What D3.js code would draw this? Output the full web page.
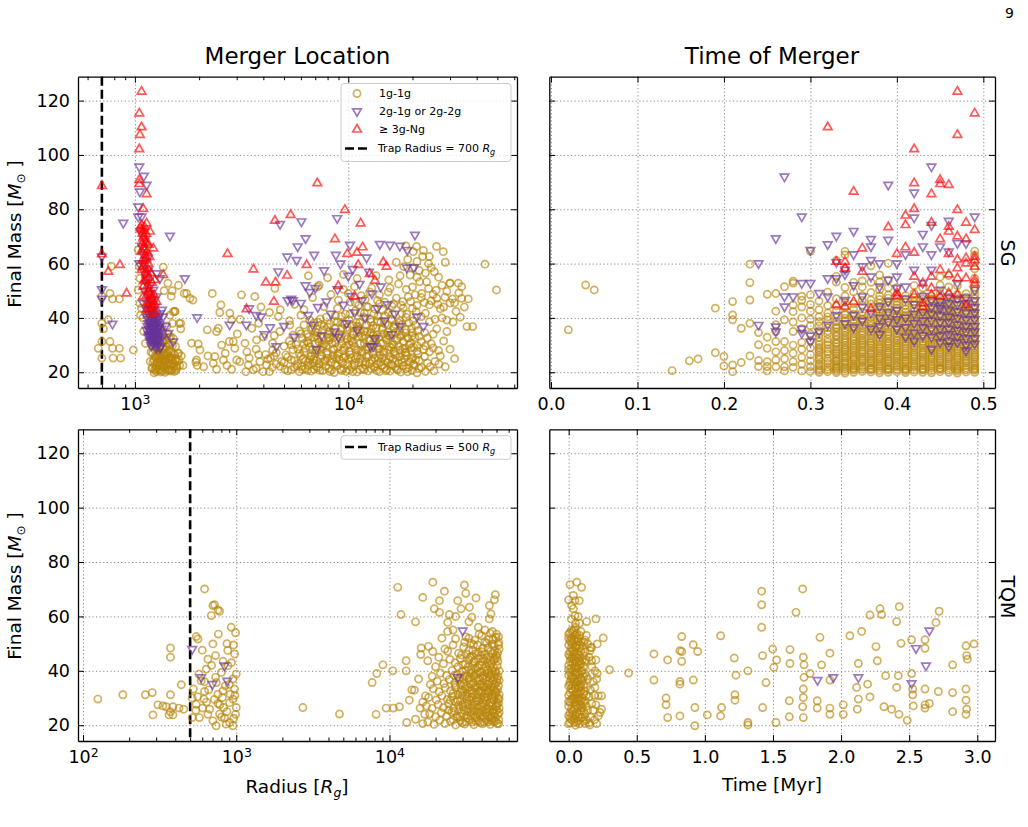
<!DOCTYPE html>
<html>
<head>
<meta charset="utf-8">
<script src="https://cdn.jsdelivr.net/npm/d3@7"></script>
<style>
  body { margin: 0; background: #fff; }
  svg text { font-family: "DejaVu Sans", sans-serif; }
</style>
</head>
<body>
<div id="chart"></div>
<script>
// ---- tick values ----
var massTicks = [20, 40, 60, 80, 100, 120];
var radiusTicksSG = [1e3, 1e4];
var radiusTicksTQM = [1e2, 1e3, 1e4];
var timeTicksSG = [0.0, 0.1, 0.2, 0.3, 0.4, 0.5];
var timeTicksTQM = [0.0, 0.5, 1.0, 1.5, 2.0, 2.5, 3.0];
var trapRadius = [700, 500];
var legendLabels = ['1g-1g', '2g-1g or 2g-2g', '\u2265 3g-Ng'];

// ---- SG: merger location (radius [Rg], final mass [Msun]) ----
var sgLoc1g = [
  [673,28.8],[700,25.2],[700,31.3],[764,31.3],[785,28.8],[845,28.8],[790,25.2],[857,25.2],[750,39.3],[764,49],[785,47],[845,47],[775,59],[983,28.2],[700,38],[700,48],[712,36],
  [1036,65],[1048,59],[1055,54.6],[1036,50.3],[1055,45.4],[1074,43.6],[1062,41],[1090,40],[1120,30.6],[1100,35],
  [1180,24],[1200,21.5],[1210,27],[1225,29.5],[1240,22.8],[1250,25.5],[1260,20.3],[1265,31.5],[1275,23.5],[1280,27.8],[1290,21],[1300,25],[1305,29],[1315,22.5],[1320,33],[1330,26.5],[1340,20.5],[1345,24],[1355,28.5],[1360,31],[1370,22],[1380,26],[1385,20],[1395,24.5],[1400,29.5],[1410,22.8],[1420,27],[1430,34],[1435,21],[1445,25.5],[1455,30],[1465,23],[1475,27.5],[1490,20.8],[1500,24.5],[1510,32.5],[1520,22],[1535,26.5],[1550,29.5],[1565,21.5],[1580,24],[1600,27],[1620,22.5],[1640,36],[1250,34],[1300,36.5],[1200,30],[1230,19.8],[1350,34.5],[1410,37],[1460,41],[1500,38],[1540,42.5],[1470,33],
  [1428,52.8],[1748,49],[1870,46.6],[1540,42.3],[1639,38],[1480,48],[1600,52],
  [1357,58.7],[1370,50],[1495,50],[1703,49],[1810,47.2],[1513,42.3],[1613,38],[1843,30.7],[1980,30.4],[1945,24.5],[2018,28.2],[1958,22.5],[1930,23.7],[2305,49],[2530,44.8],[2500,42],[2183,35.6],[2415,35],[2460,36.2],[2786,41.7],[2840,39.3],[2770,31.3],[2890,31.3],[2940,28.8],[3000,24.5],[3100,23.9],[2840,21.1],[3310,20.2],[2415,21.1],[2330,23.3],[2370,25.8],[3160,48.5],[3650,47.9],[3020,34.1],[3280,30.7],[3430,25.2],[3400,22.7],[3590,20.9],[3110,39.5],[3530,36.2],[3720,31.9],[3850,23.9],[3990,20.2],[4270,42],[4420,30.7],[4780,35],[5320,37.4],[4700,40.5],[4420,28.2],[4320,25.2],[4140,22.7],[4270,20.2],[4870,24],[5050,21.1],[2650,27],[2600,24.5],[2200,26],[2100,22],[2700,22.5],[2550,30],[4530,50.9],[3900,44],[3800,38],[3350,27.5],[3700,28.5],[4000,33],[4100,26.5],[4600,23],[4500,33.5],
  [5200,20.5],[5600,21.8],[5900,20.2],[6300,21.3],[6700,20.4],[7100,22],[7600,20.6],[8100,21.5],[8600,19.9],[9200,21.2],[9800,20.3],[10400,21.9],[11000,20.1],[11700,21.4],[12400,20.5],[13200,22.1],[14000,20.2],[14800,21.6],[15700,20.4],[16600,21.9],[17600,20.1],[18700,21.3],[19900,20.6],[21000,19.8],[22000,21.8],
  [5000,23.5],[5400,24.6],[5800,23.1],[6150,25],[6500,23.8],[6900,24.9],[7300,23.2],[7800,24.4],[8300,23.6],[8800,25.2],[9400,23.4],[10000,24.7],[10700,23.3],[11400,25.1],[12100,23.9],[12900,24.5],[13700,23.1],[14500,25.4],[15300,23.6],[16200,24.8],[17200,23.3],[18300,25],[19500,23.8],[20700,24.6],[23500,23.4],[25500,24],
  [4600,27.2],[5100,26.4],[5500,28.3],[5900,26.9],[6300,28.8],[6700,26.2],[7100,27.9],[7500,29.2],[8000,26.6],[8500,28.4],[9000,27],[9600,29.1],[10200,26.5],[10900,28.2],[11600,27.1],[12300,29.3],[13100,26.4],[13900,28.6],[14700,27.3],[15600,29.4],[16500,26.8],[17500,28.1],[18600,27.4],[19800,29],[21200,26.6],[22600,28.4],[24000,27.5],[26500,28],
  [5300,31.5],[5700,30.2],[6100,32.4],[6500,30.8],[6900,32.9],[7300,31.1],[7700,30.3],[8200,32.6],[8700,31],[9300,30.4],[9900,32.2],[10500,30.9],[11200,33.1],[11900,30.5],[12600,31.8],[13400,32.7],[14200,30.6],[15100,31.9],[16000,30.2],[17000,32.5],[18100,31.3],[19300,30.1],[20500,32.8],[22000,31.2],[24500,30.5],[28000,31.5],
  [5900,35.2],[6400,34.1],[6800,36.4],[7200,34.6],[7700,36.9],[8200,35],[8700,34.3],[9300,36.2],[9900,35.4],[10500,34.2],[11200,36.7],[11900,35.1],[12700,34.4],[13500,36.3],[14400,35.6],[15300,34.7],[16300,36.8],[17400,35.2],[18500,34.5],[19800,36.1],[21200,35.3],[22800,34.6],[26000,36],[29000,35],
  [6600,39.2],[7200,38.4],[7900,40.3],[8600,38.8],[9300,40.6],[10100,39.1],[10900,38.2],[11800,40.4],[12700,39.5],[13700,38.6],[14800,40.8],[16000,39.3],[17300,38.1],[18700,40.2],[20200,39],[22000,40.5],[24000,38.6],[27500,40],[31000,38.5],[33500,40.3],[36000,36.8],
  [5600,45],[6200,43],[6800,47.5],[7300,52],[7700,44.2],[8300,48.6],[8900,43.5],[9500,50.5],[10200,45.8],[10800,42.6],[11500,48.2],[12200,44.1],[12900,51],[13700,46.4],[14500,42.8],[15400,49.5],[16300,45.2],[17200,52.5],[18100,43.6],[19100,47.8],[20000,51.4],[21000,44.6],[22100,49],[23300,53.3],[24500,46.3],[25800,50.2],[27000,43.4],[28400,47.6],[30000,52.8],[31500,45.5],[33000,49.2],[35000,44],[36500,47],[38300,36.8],[33950,47.2],[32800,52.8],[29960,52.8],[43700,59.8],[49500,50.3],[19500,55.8],[21500,57.5],[18200,58.9],[23800,60],[27870,64.4],[25930,66.3],[22300,62.6],[20900,66.3],[18620,66.5],[20180,64.4],[16800,60.5],[24500,58.5],[26500,55],[13500,55.5],[15500,54],[11000,54.5],[9500,56],[8000,54.8],[7200,51.5],[6500,55.5],[6000,41],[5300,39],[4800,43],
  [26600,23],[25200,20.5],[27000,26],[30000,28.5],[31500,25],[28500,22]
];
var sgLoc1gDense = [
  [5400,20.9],[5750,22.4],[6100,21],[6500,22.6],[6900,21.1],[7350,20.7],[7850,22.3],[8350,20.8],[8900,22.5],[9500,21.6],[10100,20.8],[10700,22.6],[11350,21],[12000,22.7],[12800,21.3],[13600,20.6],[14400,22.4],[15200,21],[16100,22.6],[17100,20.8],[18100,22.4],[19200,21.7],[20400,22.6],[3700,21.5],[4400,21.8],[4800,22.2],[23000,20.3],[24200,22],
  [5200,25.6],[5600,24.2],[6000,26],[6300,24.2],[6700,25.8],[7100,24.3],[7500,26.2],[8000,25.2],[8500,26.4],[9100,24.6],[9700,26],[10300,25.4],[11000,26.3],[11700,24],[12500,26.1],[13300,25.3],[14100,26.4],[14900,24.2],[15800,25.6],[16700,26.3],[17700,24.4],[18900,26.1],[20000,25.4],[21500,24.3],[22800,25.8],[4200,24.8],[4500,26],[3800,26.5],
  [5000,29.6],[5400,30.1],[5800,28.6],[6200,30.5],[6600,29.4],[7000,30.6],[7400,28.3],[7900,29.8],[8400,30.7],[8900,29.3],[9500,28],[10100,30.3],[10700,29.5],[11400,30.6],[12100,28.4],[12900,30.2],[13700,29.6],[14500,30.8],[15400,28.3],[16300,30.1],[17300,29.6],[18400,28.8],[19600,30.7],[21000,29.8],[23000,29.7],[25000,28.9],
  [5500,33.6],[6000,34.2],[6500,33],[7000,34.8],[7500,32.7],[8000,33.9],[8500,32.6],[9100,34.1],[9700,33.5],[10300,32.5],[11000,34.5],[11600,33.2],[12300,34.9],[13100,33.5],[13900,32.8],[14700,34.2],[15600,33.4],[16600,34.6],[17700,33.6],[18800,32.8],[20000,34.5],[21500,33.2],[23500,32.6],[25000,34],
  [6200,37.4],[6900,38.1],[7500,37.6],[8200,37.8],[8900,38.5],[9600,37.6],[10400,37.3],[11300,38.3],[12200,37.4],[13100,37.1],[14200,38.5],[15400,37.5],[16600,37.6],[17900,37.6],[19200,38.2],[20700,37.3],[9700,41.4],[11400,42],[13200,41.5],[15400,42],[17800,41.7],[20800,42.3],[23000,41.7],[25500,39.5],[29000,39.2],
  [9000,46.5],[10000,49],[10700,51.5],[11200,44.7],[12000,46.8],[12600,49.6],[13300,43.3],[14000,48.5],[14800,45.8],[15700,51],[16800,47.3],[17700,44.7],[18700,50.5],[19600,46],[20600,48.5],[21600,53.3],[22700,45.7],[23800,50.8],[25000,48.6],[26300,45],[27500,52],[29000,49.8],[30800,47],[32000,42.4],[34000,51.5],[21000,55],[23000,56.5],[20000,58.5],[17500,55.5],[19000,61.5],[21000,60.8],[22500,64.8],[24000,62.6],[25300,57],[28500,60.5],
  [1190,27.4],[1215,23.8],[1235,20.8],[1245,26],[1260,29],[1270,22],[1285,25.4],[1295,30.5],[1310,27],[1320,20.1],[1335,23],[1350,25.9],[1365,29.5],[1375,23.4],[1390,27.2],[1405,20.6],[1415,25],[1425,30.5],[1440,23.5],[1450,28.2],[1470,20.4],[1480,25.2],[1500,29.8],[1515,23.3],[1530,20.3],[1555,25],[1575,22.2],[1610,24.5],[1650,26],[1680,22.5],[1240,31.5],[1280,33],[1330,30],[1400,32],
  [6050,22.1],[6450,20.7],[6850,23.4],[7250,21.6],[7700,23.9],[8200,20.3],[8700,23.1],[9300,20.6],[9900,22.8],[10500,20.2],[11200,23.6],[11900,20.9],[12600,23.2],[13400,21.7],[14200,23.8],[15000,20.5],[15900,23],[16900,21.2],[17900,23.7],[19000,20.2],[20200,22.9],[21500,21.4],
  [6200,27.4],[6600,24.6],[7000,26.9],[7400,25],[7900,27.2],[8400,24.9],[8900,26.2],[9500,25.3],[10100,27.5],[10800,24.9],[11500,27.7],[12200,25.6],[13000,27.4],[13800,25.1],[14600,27.6],[15500,24.7],[16400,27.6],[17400,25.7],[18500,27.2],[19700,24.9],[21000,27.8],
  [6400,31.4],[6800,28.2],[7200,32.2],[7600,29.6],[8100,31.7],[8600,28.4],[9200,32.3],[9800,29.7],[10400,31.4],[11100,28.1],[11800,32.2],[12500,29.2],[13300,31.4],[14100,28.5],[15000,32.6],[15900,29.1],[16900,31.7],[18000,28.6],[19100,32.5],[20300,29.2],
  [6700,35.8],[7100,33.5],[7600,35.6],[8100,32.9],[8700,36.2],[9300,33.4],[9900,36.5],[10600,33.8],[11300,35.8],[12000,33.6],[12800,36],[13600,33.7],[14500,36.4],[15400,33.5],[16400,36.2],[17500,33.1],[18600,35.8],[19900,33.3],
  [7400,39.6],[8000,36.7],[8700,40.8],[9400,38.2],[10200,41.5],[11000,37],[11900,41.7],[12800,38.5],[13800,40.7],[14900,37.8],[16100,41.5],[17400,38.9],[18800,41.4],[10800,45.5],[12400,44],[14000,45.2],[16000,44.4],[18000,46],[20000,43.5],[22000,47.5],[24000,44.8],[26000,47.2],[28000,44],[30000,45.5],
  [1210,21.5],[1230,24.5],[1255,21.2],[1275,26.3],[1290,23.8],[1310,20.8],[1325,25.2],[1345,21.9],[1360,26.8],[1380,24.4],[1395,21.7],[1410,26.2],[1430,23.1],[1450,20.9],[1465,25.6],[1490,22.7],[1510,26.9],[1540,24.2],[1560,20.7],[1590,27],[1250,28],[1300,27.2],[1350,32],[1450,32.5]
];
var sgLoc2g = [
  [700,62.6],[700,50.5],[700,47],[882,75],[785,37.8],
  [1048,95.7],[1102,92.3],[1134,89],[1055,86.5],[1036,81],[1074,77.3],[1036,77.3],[1459,70.2],[1114,68.7],[1074,66.5],[1048,60.1],[1094,60.1],[1155,57.7],[1262,56.4],[1309,54.6],[1714,54.6],[1134,52.8],[1219,50.3],[1262,47.9],[1094,45.4],[1197,43],[1309,41.7],[1134,40.5],[1240,39.3],[1357,40.5],[1155,38],[1287,36.2],[1176,35],[1219,33.1],[1309,31.9],[1262,30.1],[1433,34.4],[1513,31.3],[1134,35.6],[1197,36.8],[1155,33.1],[1240,34.4],[1180,37.5],[1210,39],[1250,36.8],[1270,35],[1230,31.8],[1190,32],[1160,41.5],[1280,38.5],[1300,33.8],[1150,45.5],[1200,47],[1240,44],[1170,49],[1120,56],[1090,63.5],[1060,72],[1150,62],[1320,29.5],[1340,43],[1390,37],[1110,50],
  [1165,36],[1185,34],[1195,38.5],[1205,35.5],[1215,37],[1225,33.5],[1235,36],[1245,38.5],[1255,33],[1265,37.8],[1275,32],[1285,34.5],[1295,36.5],[1160,39.5],[1175,31.5],[1215,30.5],[1260,29],[1230,40.5],[1200,42.5],[1250,41],[1290,40],[1145,37],[1140,43],[1175,46.5],[1210,45],[1330,36],[1350,33],[1310,29],[1180,52],[1130,54.5],
  [1170,33.5],[1190,36.5],[1200,33],[1220,38.5],[1230,35],[1240,32],[1255,35.5],[1265,39.5],[1280,36],[1290,32.5],[1170,43],[1185,40],[1215,41],[1245,34],[1225,37.5],[1205,31.5],[1190,29.8],[1260,31],[1300,37.5],[1160,34],
  [1958,40.2],[4790,74.5],[6030,75.5],[6310,69.3],[5790,66.3],[5180,62.6],[5730,61.3],[6920,63.2],[4700,57.1],[8870,76.7],[10190,66.9],[14060,67.2],[15680,66.9],[17460,66.5],[18910,65],[20540,70.6],[12190,62.2],[8750,63.2],[2780,37.5],[3430,43.5],[3330,37.5],[3700,41],[3900,40.5],[4050,34],[4300,36.5],[4600,29.5],[5000,37],[5200,46.5],[5500,46.5],[5600,33],[6000,45.5],[6300,52],[6500,41],[6800,37.5],[7000,51],[7200,44],[7500,33.5],[7700,57.5],[7900,46],[8300,41.5],[8600,35],[8900,50.5],[9200,60],[9500,44.8],[9800,38],[10000,55.5],[10300,48],[10700,42],[11000,35.5],[11300,52.5],[11600,46.5],[12000,40],[12500,57],[12900,49],[13300,32.5],[13700,43.5],[14200,51.5],[14800,39],[15300,45],[16000,34],[16500,41.5],[17500,37],[18800,58.5],[20300,58.5],[21000,40.5],[22500,37],[12700,29.5],[13100,29.5],[7100,28.5],[5400,47],[6600,49.5],[9000,33],[10500,58]
];
var sgLoc3g = [
  [700,88.6],[700,63.5],[750,57],[850,59.5],[914,49],
  [1074,123.3],[1048,115.3],[1074,110.2],[1055,107.4],[1048,102.1],[1048,90.8],[1048,89.3],[1134,85.6],[1094,80.1],[1074,74.2],[1074,72.6],[1134,74.8],[1176,71.8],[1094,69.3],[1134,67.5],[1219,65.6],[1074,64.4],[1114,61.3],[1155,60.1],[1074,57.7],[1134,55.8],[1357,55.8],[1240,54],[1094,51.5],[1155,49.7],[1197,47.9],[1094,47.9],[1176,45.4],[1219,44.2],[1262,46],[1134,43],[1240,42.3],[1060,73],[1085,71],[1100,66],[1120,63],[1150,52],[1200,53],[1170,43.5],[1230,48.5],[1080,61],[1110,58.5],
  [1095,72],[1100,70],[1110,73.5],[1120,68],[1130,71],[1105,65],[1125,62],[1140,64.5],[1090,59],[1150,58],[1160,55],[1120,54],[1165,50.5],[1185,49],[1140,48.5],[1180,46],[1210,46.5],[1195,43.5],[1225,45],[1205,41.5],[1100,53.5],[1130,57],[1085,67.5],[1170,62.5],[1190,56.5],[1145,45.5],[1160,67],
  [2717,63.6],[3592,57.9],[4110,53.1],[4530,75.8],[5370,77.9],[5170,55.6],[4560,53.1],[4480,46],[3336,43.2],[7160,89.6],[9640,79.8],[8660,69],[6380,59.5],[9890,63.6],[11430,74.8],[11670,66],[11140,59.5],[12610,56.2],[8980,51.8],[10710,47.9],[13330,53.7],[14590,60.5],[15100,58.9],[10980,64]
];

// ---- SG: time of merger (time [Myr], final mass), 1g-1g listed by time column ----
var sgTime1gCols = [
  [0.02,[35.6]],[0.04,[52.1]],[0.05,[50.3]],[0.14,[20.6]],[0.16,[24.2]],[0.17,[24.9]],[0.19,[27.2,43.6]],[0.20,[25.8,22.3]],
  [0.21,[20.2,22.7,46,41.1,39.3]],[0.22,[23.6,36.2]],[0.23,[26,38,46.6,53,59.8]],[0.24,[22.1,24.3,30.1,34.6]],
  [0.25,[22.1,23.9,28.8,32.9,48.7,20.5]],[0.26,[22,24.5,27.5,31.3,35,37.5,42.5,49]],[0.27,[22,25,28,31.3,39.3,51.5,20.5]],
  [0.28,[21.8,23.9,27,30,35,38.5,42.3,44.8,52.8,53.5]],[0.29,[20.5,23,25.5,28.5,31,36,40,44,46.5,48]],
  [0.30,[20.3,22,24.2,26.5,29,31.6,34,37.2,39.5,42.5,45,48.5,64.5]],
  [0.31,[20,21.4,23.1,24.5,26.2,27.4,29.1,31.2,32.8,35.3,37,40.4,43,46.2]],
  [0.32,[20.2,21.9,23.2,25.1,26.7,28.6,30.1,32.2,34.1,36.4,39.2,41.8,44.5,49.5]],
  [0.33,[19.9,21.3,23,24.3,26.1,27.5,29.3,30.9,33.2,34.8,37.4,40.2,42.8,47.1,53.2,55.3,61.2]],
  [0.34,[19.7,21.2,22.8,24.2,25.8,27.6,29,30.9,32.5,34.6,36.3,38.7,41.1,43.8,48.1,51.2,58.1,63.2,64.5]],
  [0.35,[20,21.7,23.1,24.9,26.3,28.1,29.6,31.5,33.1,35.2,36.9,39.3,41.4,45.2,49.6,53.1]],
  [0.36,[20.3,21.8,23.6,25,26.8,28.2,30.1,31.6,33.6,35.2,37.3,39.3,42.1,44.7,48.2,51.4,53.6]],
  [0.37,[20.1,21.6,23.4,24.8,26.6,28,29.9,31.4,33.4,35,37.1,38.9,41.4,43.7,46.6,49.4,53.1,59.2]],
  [0.38,[19.8,21.5,22.9,24.7,26.1,27.9,29.4,31.3,32.9,34.9,36.6,38.8,40.7,43.1,45.4,48.1,50.4,53.2,55.8]],
  [0.39,[20,21.5,23.3,24.7,26.5,27.9,29.8,31.3,33.3,34.9,37,38.8,41.1,43.3,46.1,48.4,51.1,53.9,60.1]],
  [0.40,[20.2,21.9,23.3,25.1,26.5,28.3,29.8,31.7,33.3,35.3,37,39.2,41.2,43.7,45.9,48.7,51.1]],
  [0.41,[19.9,21.4,23.2,24.6,26.4,27.8,29.7,31.2,33.2,34.8,36.9,38.7,41.1,43.2,45.9,48.2]],
  [0.42,[20.1,21.8,23.2,25,26.4,28.2,29.7,31.6,33.2,35.2,36.9,39.1,41.1,43.6,45.9,49.1,51.9]],
  [0.43,[20,21.5,23.3,24.7,26.5,27.9,29.8,31.3,33.3,34.9,37,38.8,41.1,43.2,45.8,48.1,51.1]],
  [0.44,[19.8,21.5,22.9,24.7,26.1,27.9,29.4,31.3,32.9,34.9,36.6,38.8,40.7,43.1,45.4,48.1]],
  [0.45,[20.2,21.7,23.5,24.9,26.7,28.1,30,31.5,33.5,35.1,37.2,39,41.4,43.5,46.1,48.9,52.1,55.1]],
  [0.46,[20,21.7,23.1,24.9,26.3,28.1,29.6,31.5,33.1,35.1,36.8,39,40.9,43.4,45.7,48.6,51.4,55.6]],
  [0.47,[19.7,21.4,22.8,24.6,26,27.8,29.3,31.2,32.8,34.8,36.5,38.7,40.7,43.3,45.7,48.6,51.9]],
  [0.48,[20.1,21.6,23.4,24.8,26.6,28,29.9,31.4,33.4,35,37.1,38.9,41.3,43.5,46.3,48.9]],
  [0.49,[20,21.7,23.1,24.9,26.3,28.1,29.6,31.5,33.1,35.1,36.8,39,40.9,43.4,45.7,48.6,51.4,54.6,58.1,60.4,63.1,64.6]]
];
var sgTime1gColsDense = [
  [0.31,[20.7,22.3,25.3,28.2,30.1,34.1,38.6]],
  [0.32,[21,24.1,27.6,31.1,35.2,40.4]],
  [0.33,[20.6,22.2,25.2,28.4,32,36.1,38.7,44.5,21.7,24,26.9,30.4,33.7,36.6]],
  [0.34,[20.4,23.5,26.7,29.9,33.5,37.4,39.9,45.8,21.8,25.1,28.3,31.7,35.4,41.6]],
  [0.35,[20.8,22.4,25.6,28.9,32.3,36.1,40.4,43.3,21.3,24.3,27.3,30.5,34.2,38.1]],
  [0.36,[21.1,24.3,27.5,30.8,34.4,38.3,40.8,46.4,22.4,25.7,29.2,32.4,36.3,39.6]],
  [0.37,[20.9,22.5,25.7,29,32.4,36.1,40.2,45.1,21.2,24.1,27.2,30.7,34.3,38]],
  [0.38,[20.6,23.8,27,30.3,34,37.7,39.8,44.2,46.8,22.2,25.4,28.7,32.2,35.9,41.9]],
  [0.39,[20.8,22.4,25.6,28.9,32.3,36,39.9,44.6,47.3,21.2,24.1,27.2,30.6,34.1,38.1,41.9]],
  [0.40,[21,24.2,27.4,30.8,34.3,38.1,40.2,42.5,47.3,22.5,25.8,29.1,32.5,36.2,40.8,44.8]],
  [0.41,[20.6,22.3,25.5,28.8,32.2,35.9,39.9,42.1,44.6,47,21.1,24,27,30.5,34,37.8,40.5]],
  [0.42,[20.9,24.1,27.3,30.6,34.2,38,40.1,42.4,47.5,22.4,25.7,29.1,32.4,36.1,40.6,44.8]],
  [0.43,[20.8,22.4,25.6,28.9,32.3,36,39.9,42.2,44.5,46.9,21.1,24,27.2,30.6,34.1,37.9,40.6]],
  [0.44,[20.6,23.8,27,30.3,33.9,37.7,39.8,42,44.3,46.8,22.2,25.4,28.7,32.1,35.8,41.8,47]],
  [0.45,[21,22.6,25.8,29.1,32.5,36.1,40.2,42.4,44.8,47.5,21.4,24.2,27.4,30.8,34.3,38.2,40.5]],
  [0.46,[20.8,24,27.2,30.6,34.1,37.9,40,42.2,44.6,47.2,22.4,25.6,29,32.3,36,41.8,44]],
  [0.47,[20.5,22.1,25.3,28.6,32,35.7,39.7,42,44.5,47.1,21.1,23.8,27,30.4,33.9,37.6,41.6]],
  [0.48,[20.9,24.1,27.3,30.7,34.2,38,40.2,42.4,44.9,47.6,22.4,25.7,29,32.4,36.1,41.8,44.1]],
  [0.49,[20.8,22.4,25.6,28.9,32.3,36,40,42.2,44.5,47.1,50,21.2,24,27.1,30.6,34.1,37.9,41.6]]
];
var sgTime2g = [
  [0.27,92],[0.29,77.3],[0.26,69.3],[0.24,60.1],[0.30,65],[0.33,70.2],[0.32,67.1],[0.35,72],[0.37,69],[0.37,66.3],[0.39,89],[0.39,68.7],[0.44,95.7],[0.42,86.1],[0.42,76.9],[0.46,75.7],[0.49,77.3],[0.48,67.5],[0.47,67.5],[0.43,70.9],[0.44,74.2],[0.45,66.3],[0.43,66.3],[0.44,63.4],[0.46,64.4],[0.41,63.4],[0.40,60.1],[0.38,60.1],[0.37,61.3],[0.35,63.4],[0.33,54.6],[0.32,54.6],[0.30,52.8],[0.29,52.8],[0.28,47.9],[0.27,47.9],[0.27,44.2],[0.24,37.4],[0.26,36.8],[0.26,35],[0.29,34.4],[0.30,31.3],[0.31,49.1],[0.32,47.9],[0.34,57.7],[0.34,46.6],[0.35,41.1],[0.36,47.9],[0.37,55.2],[0.38,51.5],[0.38,44.2],[0.39,54],[0.40,55.2],[0.40,51],[0.41,51.5],[0.42,57.7],[0.43,52.8],[0.44,57.7],[0.45,50.3],[0.46,47.9],[0.47,52.8],[0.48,45.4],[0.49,50.3],
  [0.29,36],[0.30,33.5],[0.31,35],[0.32,37.5],[0.33,41],[0.34,38],[0.35,36.5],[0.36,44],[0.36,39],[0.37,42],[0.37,36],[0.38,40],[0.38,34],[0.39,46],[0.39,38.5],[0.40,43],[0.40,36],[0.41,47],[0.41,40],[0.41,33],[0.42,45],[0.42,38],[0.42,31.5],[0.43,48],[0.43,42],[0.43,36.5],[0.44,44],[0.44,39],[0.44,33],[0.45,46],[0.45,41],[0.45,36],[0.45,31],[0.46,43],[0.46,38.5],[0.46,34],[0.47,45],[0.47,40],[0.47,35.5],[0.47,31],[0.48,42],[0.48,37],[0.48,32.5],[0.49,44],[0.49,39.5],[0.49,35],[0.49,30.5],[0.42,34.5],[0.44,28.5],[0.46,29.5],[0.48,28],[0.33,60.5],[0.34,56],[0.36,59],[0.35,52],
  [0.45,38.5],[0.46,40.5],[0.47,37.5],[0.48,39.5],[0.49,37],[0.46,36],[0.48,35],[0.44,41.5],[0.45,43.5],[0.47,42.5],[0.49,42],[0.43,39],
  [0.44,36],[0.45,33.5],[0.46,31.5],[0.47,33],[0.48,30],[0.49,32.5],[0.45,44.5],[0.47,47],[0.49,46.5],[0.46,45.5],[0.48,47.5],[0.43,33.5],[0.42,41.5],[0.41,36.5],[0.40,39.5],[0.39,42],[0.38,37],[0.44,46.5]
];
var sgTime3g = [
  [0.47,123.3],[0.49,115.3],[0.32,110.2],[0.47,107.4],[0.42,102.1],[0.45,90.8],[0.45,89.3],[0.46,89],[0.42,89.6],[0.44,85.6],[0.35,86.5],[0.42,80.1],[0.41,77.7],[0.41,74.2],[0.44,75.1],[0.46,73.6],[0.46,71.8],[0.48,75.1],[0.49,72.4],[0.47,79.8],[0.39,73.4],[0.45,69],[0.47,70],[0.48,69],[0.36,65.6],[0.40,63.6],[0.41,66],[0.42,64],[0.46,63.6],[0.49,61.3],[0.48,60.1],[0.47,58.3],[0.49,58.9],[0.49,54],[0.49,52.8],[0.48,54.6],[0.47,54.6],[0.45,57.7],[0.44,55.2],[0.42,55.2],[0.33,60.7],[0.34,60.7],[0.34,58.3],[0.36,57],[0.35,46],[0.33,44.8],[0.34,44.2],[0.37,43.2],[0.40,47.9],[0.40,49.1],[0.43,52.8],[0.43,45.4],[0.43,44],[0.44,48.5],[0.45,47.9],[0.46,49.1],[0.47,48.5],[0.48,44.8],[0.42,48.5],[0.44,51],[0.46,56],[0.49,62.5],[0.48,62],[0.47,61.5]
];

// ---- TQM: merger location ----
var tqmLoc1g = [
  [125,29.6],[182,31.2],[255,31.2],[283,32],[286,23.8],[308,27.5],[332,27.1],[349,26.8],[364,23.8],[371,25],[372,31.2],[372,48.4],[372,45],[386,26.8],[423,26.3],[438,34.9],[454,25.9],[386,23.8],[516,22.8],[516,30],[525,33.3],[548,27.7],[575,22.8],[603,26.3],[621,32.4],[548,52.6],[562,51.7],[600,47.6],[621,70.1],[637,40.6],[653,44.3],[670,25.9],[687,60.3],[704,64],[722,64.3],[759,62.4],[778,61.9],[704,49.9],[733,45.6],[741,35.7],[759,31.4],[778,24.1],[811,30.2],[827,26.5],[839,22.6],[860,20.4],[883,41.9],[905,21],[927,56],[951,37],[975,46.2],[990,54],[1000,26.5],[990,24],[1000,38.8],[975,33.3],[951,29.6],[905,28.3],[848,34.5],[800,39.4],[733,37.6],[759,28],[800,23],[951,19.8],[913,31.4],[818,32.6],[764,53.5],[570,38.8],[590,36.3],[615,29.6],[653,24],[704,21.6],[740,19.8],[870,50],[960,49.5],[930,43],[880,47.5],[820,43.5],[690,42],[660,33],[620,36],[560,30.5],[545,25.5],[980,31],[960,22.5],[870,25],[900,35],[780,27.5],[720,29.5],[640,28.5],
  [11330,70.7],[11900,60.7],[19200,72.6],[16500,67],[22850,69.3],[21200,65.8],[19630,62.8],[21200,61.5],[24600,60.7],[23990,57.8],[27900,65.8],[30840,71.6],[29320,62.8],[33270,63.4],[36720,66.8],[44870,64],[46010,60.9],[49140,68],[48400,66.1],[44870,59.1],[34560,59.7],[14790,58],[16110,48.4],[17780,43.7],[19190,47.1],[12850,43.7],[12850,40],[10520,40],[9060,42.2],[7710,35.7],[8270,39],[8180,24],[9510,26.3],[10610,26.3],[11610,26.8],[12960,21],[13480,29.2],[14550,32.9],[14790,22.2],[15850,26.3],[16500,20.6],[17170,30.8],[2720,26.5],[4720,24.1],[31500,68.5],[27000,60],[26000,55],[33000,58],[38000,56],[42000,55],[47000,54.5],[50000,53.5],
  [17800,21.2],[19500,20.3],[21300,21.8],[23000,20.6],[25000,21.4],[27000,20.1],[29000,21.6],[31000,20.4],[33500,21.9],[35500,20.2],[38000,21.5],[40500,20.5],[43000,21.7],[45500,20.3],[48000,21.3],[50500,20.6],
  [18300,24.2],[20000,23.1],[21800,24.6],[23600,23.4],[25500,24.8],[27500,23.2],[29500,24.4],[31800,23.6],[34000,24.9],[36300,23.3],[38800,24.5],[41000,23.5],[43500,24.7],[46000,23.1],[48500,24.3],[51000,23.8],
  [17400,27.1],[19000,26.2],[20800,27.6],[22500,26.5],[24300,27.9],[26200,26.3],[28200,27.4],[30300,26.7],[32500,27.8],[34800,26.4],[37200,27.5],[39600,26.6],[42000,27.9],[44500,26.2],[47000,27.3],[49500,26.8],[51500,28],
  [18000,30.2],[20200,29.3],[22000,30.8],[23900,29.5],[25800,30.6],[27800,29.2],[29900,30.9],[32000,29.6],[34300,30.4],[36700,29.1],[39000,30.7],[41500,29.4],[44000,30.5],[46500,29.8],[49000,30.9],[51300,29.6],
  [19300,33.4],[21100,32.3],[23100,33.8],[25000,32.6],[27000,33.9],[29000,32.2],[31200,33.5],[33400,32.8],[35800,33.7],[38200,32.4],[40600,33.9],[43100,32.5],[45600,33.6],[48000,32.9],[50800,33.2],
  [20500,36.2],[22700,35.3],[24600,36.8],[26600,35.5],[28500,36.6],[30700,35.2],[32900,36.9],[35200,35.6],[37600,36.4],[40000,35.1],[42600,36.7],[45000,35.4],[47500,36.5],[50200,35.9],
  [21500,39.2],[23600,38.3],[25600,40.1],[27700,38.6],[29800,39.8],[32000,38.2],[34200,40.4],[36600,38.9],[39000,39.6],[41500,38.4],[44000,40.2],[46500,38.8],[49200,39.9],
  [22500,42.6],[24800,44.2],[26800,43],[29000,44.6],[31300,42.4],[33600,44.9],[36000,43.2],[38500,42.1],[41000,44.4],[43500,43.1],[46200,42.5],[48800,44.7],[51000,43.5],
  [24000,47.2],[26000,49.5],[28300,46.5],[30500,48.8],[33000,47.5],[35400,49.6],[38000,46.8],[40500,48.3],[43000,50.1],[45800,47.2],[48300,49.2],[50800,46.6],
  [27000,51.8],[31500,52.5],[36000,51.3],[40000,52.9],[44500,51.6],[49500,52.2],[51500,50.5],
  [14000,33],[15500,37],[16500,28.5],[17000,24],[18500,35],[20000,41.5],[19000,38],[16000,46],[18000,49],[21000,45],[22000,52],[24000,54.5],[23000,48]
];
var tqmLoc1gDense = [
  [26000,21.9],[28000,22.8],[30000,20.9],[32500,22.6],[34700,21.2],[37000,22.8],[39300,21],[41800,22.6],[44200,21.2],[46800,22.4],[49300,21.6],[51800,22],
  [24400,25.6],[26400,25.2],[28500,26],[30700,25.5],[33000,26.1],[35300,25.4],[37700,26.2],[40100,25.2],[42600,26],[45200,25.3],[47700,25.9],[50200,25.5],[52000,24.6],
  [25000,29.1],[27000,28.6],[29000,29],[31200,28.3],[33400,29.2],[35700,28.5],[38100,29.1],[40500,28.3],[43000,28.9],[45500,28.4],[48000,29.2],[50500,28.1],
  [26000,31.8],[28000,31.3],[30200,32],[32400,31.4],[34800,31.7],[37200,31.2],[39600,32],[42000,31.5],[44600,31.9],[47200,31.3],[49800,31.8],[52000,31.2],
  [27000,34.8],[29200,35],[31500,34.3],[33800,35.1],[36300,34.5],[38700,35],[41200,34.2],[43700,35],[46300,34.3],[48800,35.1],[51500,34.5],
  [26500,38.3],[28700,37.6],[31000,38.1],[33300,37.5],[35700,38.2],[38100,37.4],[40600,38],[43200,37.6],[45700,38.3],[48400,37.5],[51000,38],
  [28000,41.5],[30200,42.2],[32500,41.4],[35000,42],[37500,41.2],[40000,42.1],[42500,41.5],[45200,41.9],[47800,41.1],[50500,41.8],
  [29500,45.8],[32000,46],[34300,45.4],[36800,46.3],[39300,45.5],[41800,46.1],[44500,45.3],[47200,46.2],[49800,45.6],[52000,48],
  [31000,50.5],[34000,50.2],[37500,49.5],[42000,50.6],[46800,49.8],[51500,52.5],[38500,53.5],[45500,53.8],
  [29000,23.2],[31500,21.3],[34000,23.6],[36500,21.6],[39000,23.4],[41500,21.2],[44000,23.3],[46500,21.7],[49000,23],[51500,20.5],
  [30000,27.5],[32500,25.1],[35000,27.3],[37500,24.6],[40000,27.4],[42500,24.5],[45000,27.1],[47500,24.8],[50000,27.2],[52000,26.3],
  [29500,33],[32000,30.4],[34500,32.5],[37000,30.1],[39500,32.7],[42000,30.2],[44500,32.9],[47000,30.5],[49500,32.5],[52000,29.8],
  [30500,36.9],[33000,34],[35500,37.5],[38000,34],[40500,37.2],[43000,34],[45500,37.4],[48000,34.1],[50500,37.1],[52000,36.5],
  [31500,40.2],[34000,39.1],[36500,40.6],[39000,39.4],[41500,40],[44000,39],[46500,40.4],[49000,39.2],[52000,40],
  [33000,44.2],[35500,43.6],[38000,44.5],[40500,43.4],[43000,44.6],[45500,43.8],[48000,44],[50500,44.8],
  [35000,47.5],[40000,47],[44000,48.5],[48500,47.5],[51500,49.5],[33000,52],[47500,51.5]
];
var tqmLoc2g = [[516,48],[590,37.6],[700,35.1],[839,41.9],[874,36.3],[30050,54.8],[27900,37.6]];

// ---- TQM: time of merger ----
var tqmTime1g = [
  [0.01,21],[0.0,23.5],[0.02,26],[0.01,28.5],[0.0,31],[0.02,33.5],[0.01,36],[0.0,38.5],[0.02,41],[0.01,43.5],[0.0,46],[0.02,48.5],[0.01,51],[0.0,53.5],[0.02,55],
  [0.05,20],[0.04,22.3],[0.06,24.7],[0.05,27.1],[0.04,29.6],[0.06,32],[0.05,34.4],[0.04,36.9],[0.06,39.3],[0.05,41.7],[0.04,44.2],[0.06,46.6],[0.05,49],[0.04,51.5],[0.06,53.8],[0.05,56],
  [0.08,20.5],[0.07,22.9],[0.09,25.3],[0.08,27.7],[0.07,30.1],[0.09,32.6],[0.08,35],[0.07,37.4],[0.09,39.8],[0.08,42.3],[0.07,44.7],[0.09,47.1],[0.08,49.6],[0.07,52],[0.09,54.5],
  [0.11,21.5],[0.12,24],[0.10,26.5],[0.12,29],[0.11,31.5],[0.13,34],[0.10,36.5],[0.12,39],[0.11,41.5],[0.10,44],[0.12,47],[0.11,50.5],[0.13,53],
  [0.15,20.8],[0.16,23],[0.14,25.5],[0.17,28],[0.15,30.5],[0.16,33],[0.14,37],[0.17,41.5],[0.15,45],[0.16,48.5],
  [0.03,24],[0.03,30],[0.03,35],[0.03,40],[0.03,45],[0.03,50],[0.06,27],[0.06,43],[0.07,34],[0.02,38],[0.09,29],[0.09,37],[0.04,47],[0.02,52],[0.05,57.5],[0.07,60],[0.02,59],
  [0.01,71.7],[0.06,72.6],[0.095,70.7],[0.0,66.1],[0.035,67.7],[0.046,65.8],[0.078,65.8],[0.022,64],[0.035,62.8],[0.046,60.3],[0.078,57.5],[0.132,58.1],[0.2,59.1],[0.21,49.9],[0.254,52.1],[0.157,47.4],[0.169,48.6],[0.169,43.7],[0.193,40],[0.206,37],[0.193,33.9],[0.218,30.8],[0.242,30.8],[0.242,25.9],[0.23,24.7],[0.218,23.4],[0.206,20.6],[0.157,20.1],[0.3,40.4],[0.44,39.2],
  [0.626,46.2],[0.626,36.6],[0.727,44],[0.715,30],[0.715,27.5],[0.727,22.8],[0.817,47.4],[0.83,47.1],[0.83,52.6],[0.83,43.5],[0.817,36.1],[0.817,35.1],[0.817,23.4],[0.915,49.6],[0.947,47.1],[0.915,36.6],[0.927,26.5],[0.927,19.8],[1.018,23.8],[1.116,52.9],[1.116,23.4],[1.123,26.5],[1.216,44.7],[1.228,38.4],[1.221,31.2],[1.221,29.2],[1.316,40],[1.316,21],[1.316,20.1],[1.417,69.3],[1.417,64.3],[1.417,56],[1.424,45.6],[1.449,35.7],[1.424,26.5],[1.498,48],[1.522,21],[1.507,41.3],[1.527,44],[1.625,47.8],[1.625,42.7],[1.62,29],[1.62,23.1],[1.669,61.5],[1.718,70.1],[1.723,45],[1.728,42.2],[1.728,37.6],[1.723,33.3],[1.723,30.2],[1.718,26.8],[1.723,22.8],[1.772,39],[1.825,29],[1.825,26.3],[1.845,52.3],[1.857,42.2],[1.918,46.5],[1.918,36.6],[1.918,26.3],[1.918,24],[2.016,27.5],[2.016,24],[2.065,52.9],[2.114,33.9],[2.119,25.9],[2.127,42.7],[2.127,29.6],[2.151,54.5],[2.195,35.1],[2.212,60.5],[2.212,30.4],[2.256,48.9],[2.266,43.7],[2.286,62.8],[2.298,60.7],[2.315,26.8],[2.327,38.2],[2.371,25.9],[2.408,58.1],[2.408,33.9],[2.42,38.2],[2.425,24],[2.427,63.6],[2.44,50.1],[2.486,21.8],[2.518,51.4],[2.518,39],[2.526,33.3],[2.526,31.2],[2.53,27.1],[2.616,51.4],[2.616,48.3],[2.616,33.3],[2.616,27.5],[2.616,26.3],[2.648,28],[2.697,57.8],[2.714,32.4],[2.72,61.9],[2.819,42.2],[2.819,32],[2.819,25],[2.917,49.2],[2.922,45.6],[2.927,44.3],[2.917,33.3],[2.917,29.2],[2.922,25.9],[2.917,24],[2.976,49.9]
];
var tqmTime1gDense = [
  [0.0,20.5],[0.02,22],[0.01,24.5],[0.0,27],[0.02,29.5],[0.01,32],[0.0,34.5],[0.02,37],[0.01,39.5],[0.0,42],[0.02,44.5],[0.01,47],[0.0,49.5],[0.02,50.5],[0.01,54],
  [0.04,21],[0.05,23.5],[0.04,26],[0.05,28.5],[0.04,31],[0.05,33.5],[0.04,36],[0.05,38.5],[0.04,41],[0.05,43.5],[0.04,46],[0.05,48.5],[0.04,51],[0.05,53.2],[0.04,55],
  [0.07,21.7],[0.08,24],[0.07,26.3],[0.08,28.8],[0.07,31.2],[0.08,33.7],[0.07,36.1],[0.08,38.6],[0.07,41],[0.08,43.5],[0.07,46],[0.08,48.4],[0.07,50.8],[0.08,53],
  [0.10,22.8],[0.11,25.2],[0.10,30],[0.11,34.8],[0.10,40],[0.11,45.5],[0.10,49],[0.13,22],[0.13,27],[0.13,31],[0.13,38],[0.13,44],[0.14,50],[0.19,22],[0.18,25.5],[0.20,27.5],[0.19,31],[0.18,36],[0.21,39],[0.20,44],
  [0.01,22.7],[0.03,25.3],[0.0,28.7],[0.03,32.6],[0.01,35],[0.03,37.8],[0.0,40.5],[0.03,42.7],[0.01,45.3],[0.03,47.6],[0.0,52],[0.03,54.5],
  [0.06,21.2],[0.06,29.8],[0.06,35.6],[0.06,41.2],[0.06,49.4],[0.06,51.8],[0.05,31.2],[0.05,39.6],[0.05,45.2],
  [0.09,22.7],[0.09,27.1],[0.09,34.4],[0.09,42.6],[0.09,50.5],[0.08,45.6],[0.08,31.8],
  [0.11,28.3],[0.12,32.6],[0.11,37.8],[0.12,43.3],[0.12,51.3],[0.12,20.6]
];
var tqmTime2g = [[1.827,36.6],[1.943,37.6],[2.127,37.6],[2.518,35.4],[2.55,48.3],[2.623,41.9],[2.648,54.8]];

function expandCols(cols) {
    return cols.reduce(function(acc, c) {
        c[1].forEach(function(m) { acc.push([c[0], m]); });
        return acc;
    }, []);
}
var sgTime1g = expandCols(sgTime1gCols).concat(expandCols(sgTime1gColsDense));

// ---- styles ----
var styles = {
    g1: { color: '#b8860b', shape: 'circle' },
    g2: { color: '#663399', shape: 'down' },
    g3: { color: '#ff0000', shape: 'up' }
};

var W = 1028, H = 827;
var svg = d3.select('#chart').append('svg')
    .attr('width', W).attr('height', H)
    .attr('viewBox', '0 0 ' + W + ' ' + H);

var left = { x0: 78, x1: 517 }, right = { x0: 549.3, x1: 995 };
var top_ = { y0: 76.7, y1: 388 }, bot = { y0: 429.3, y1: 741 };

var triUp = d3.symbol().type(d3.symbolTriangle).size(32);
var MR = 3.6, MW = 1.7, MO = 0.65;

function minorLog(domain) {
    var out = [];
    for (var e = 1; e <= 5; e++) {
        for (var k = 2; k <= 9; k++) {
            var v = k * Math.pow(10, e);
            if (v > domain[0] && v < domain[1]) out.push(v);
        }
    }
    return out;
}

function supFormat(sel) {
    sel.each(function(d) {
        var t = d3.select(this);
        var e = Math.round(Math.log10(d));
        t.text(null);
        t.append('tspan').text('10');
        t.append('tspan').attr('dy', '-0.55em').attr('font-size', '12.5px').text(e);
    });
}

var clipId = 0;
function drawPanel(o) {
    var g = svg.append('g');
    var x = o.x.range([o.box.x0, o.box.x1]);
    var y = d3.scaleLinear().domain([14.2, 128.8]).range([o.vbox.y1, o.vbox.y0]);
    var w = o.box.x1 - o.box.x0, h = o.vbox.y1 - o.vbox.y0;

    // grid
    g.append('g').attr('transform', 'translate(0,' + o.vbox.y1 + ')')
        .call(d3.axisBottom(x).tickValues(o.xTicks).tickSize(-h).tickFormat(''))
        .call(function(s) { s.select('.domain').remove(); })
        .selectAll('line').attr('stroke', '#8a8a8a').attr('stroke-width', 1).attr('stroke-dasharray', '1.2,2.4');
    g.append('g').attr('transform', 'translate(' + o.box.x0 + ',0)')
        .call(d3.axisLeft(y).tickValues(massTicks).tickSize(-w).tickFormat(''))
        .call(function(s) { s.select('.domain').remove(); })
        .selectAll('line').attr('stroke', '#8a8a8a').attr('stroke-width', 1).attr('stroke-dasharray', '1.2,2.4');

    // trap line
    if (o.trap) {
        g.append('line')
            .attr('x1', x(o.trap)).attr('x2', x(o.trap))
            .attr('y1', o.vbox.y0).attr('y2', o.vbox.y1)
            .attr('stroke', '#000').attr('stroke-width', 2.6).attr('stroke-dasharray', '9,4');
    }

    // points
    var id = 'clip' + (clipId++);
    svg.append('clipPath').attr('id', id).append('rect')
        .attr('x', o.box.x0).attr('y', o.vbox.y0).attr('width', w).attr('height', h);
    var pg = g.append('g').attr('clip-path', 'url(#' + id + ')');
    o.series.forEach(function(s) {
        var st = styles[s.key];
        var sel = pg.append('g').selectAll('.m').data(s.data).enter();
        if (st.shape === 'circle') {
            sel.append('circle')
                .attr('cx', function(d) { return x(d[0]); })
                .attr('cy', function(d) { return y(d[1]); })
                .attr('r', MR)
                .attr('fill', 'none').attr('stroke', st.color)
                .attr('stroke-width', MW).attr('stroke-opacity', MO);
        } else {
            sel.append('path')
                .attr('d', triUp)
                .attr('transform', function(d) {
                    return 'translate(' + x(d[0]) + ',' + y(d[1]) + ')' + (st.shape === 'down' ? ' rotate(180)' : '');
                })
                .attr('fill', 'none').attr('stroke', st.color)
                .attr('stroke-width', MW).attr('stroke-opacity', MO);
        }
    });

    // axes (ticks inward on all four sides)
    var fmt = o.log ? '' : d3.format('.1f');
    var xb = g.append('g').attr('transform', 'translate(0,' + o.vbox.y1 + ')')
        .call(d3.axisBottom(x).tickValues(o.xTicks).tickSize(-6).tickSizeOuter(0).tickPadding(10)
            .tickFormat(o.log ? function(d) { return d; } : fmt));
    if (o.log) supFormat(xb.selectAll('text'));
    g.append('g').attr('transform', 'translate(0,' + o.vbox.y0 + ')')
        .call(d3.axisTop(x).tickValues(o.xTicks).tickSize(-6).tickSizeOuter(0).tickFormat(''));
    if (o.log) {
        var mn = minorLog(x.domain());
        g.append('g').attr('transform', 'translate(0,' + o.vbox.y1 + ')')
            .call(d3.axisBottom(x).tickValues(mn).tickSize(-3.5).tickSizeOuter(0).tickFormat(''))
            .select('.domain').remove();
        g.append('g').attr('transform', 'translate(0,' + o.vbox.y0 + ')')
            .call(d3.axisTop(x).tickValues(mn).tickSize(-3.5).tickSizeOuter(0).tickFormat(''))
            .select('.domain').remove();
    }
    g.append('g').attr('transform', 'translate(' + o.box.x0 + ',0)')
        .call(d3.axisLeft(y).tickValues(massTicks).tickSize(-6).tickSizeOuter(0).tickPadding(8)
            .tickFormat(o.yLabels ? d3.format('d') : ''));
    g.append('g').attr('transform', 'translate(' + o.box.x1 + ',0)')
        .call(d3.axisRight(y).tickValues(massTicks).tickSize(-6).tickSizeOuter(0).tickFormat(''));

    g.selectAll('.tick text').attr('font-size', '17.5px').attr('font-family', '"DejaVu Sans", sans-serif').attr('fill', '#000');
    g.selectAll('.tick line').filter(function() { return d3.select(this).attr('stroke-dasharray') == null; })
        .attr('stroke', '#000');
    g.selectAll('.domain').attr('stroke', '#000').attr('stroke-width', 1.3);
    return { x: x, y: y };
}

// top-left
drawPanel({
    box: left, vbox: top_, x: d3.scaleLog().domain([541, 61800]), log: true,
    xTicks: radiusTicksSG, yLabels: true, trap: trapRadius[0],
    series: [{ key: 'g1', data: sgLoc1g.concat(sgLoc1gDense) }, { key: 'g2', data: sgLoc2g }, { key: 'g3', data: sgLoc3g }]
});
// top-right
drawPanel({
    box: right, vbox: top_, x: d3.scaleLinear().domain([-0.002, 0.5135]), log: false,
    xTicks: timeTicksSG, yLabels: false,
    series: [{ key: 'g1', data: sgTime1g }, { key: 'g2', data: sgTime2g }, { key: 'g3', data: sgTime3g }]
});
// bottom-left
drawPanel({
    box: left, vbox: bot, x: d3.scaleLog().domain([92.7, 68000]), log: true,
    xTicks: radiusTicksTQM, yLabels: true, trap: trapRadius[1],
    series: [{ key: 'g1', data: tqmLoc1g.concat(tqmLoc1gDense) }, { key: 'g2', data: tqmLoc2g }]
});
// bottom-right
drawPanel({
    box: right, vbox: bot, x: d3.scaleLinear().domain([-0.142, 3.13]), log: false,
    xTicks: timeTicksTQM, yLabels: false,
    series: [{ key: 'g1', data: tqmTime1g.concat(tqmTime1gDense) }, { key: 'g2', data: tqmTime2g }]
});

// ---- legends ----
function legend(x0, y0, w, h, rows) {
    var g = svg.append('g');
    g.append('rect').attr('x', x0).attr('y', y0).attr('width', w).attr('height', h)
        .attr('rx', 3).attr('fill', '#fff').attr('fill-opacity', 0.8)
        .attr('stroke', '#cccccc').attr('stroke-width', 1);
    rows.forEach(function(r) {
        if (r.key) {
            var st = styles[r.key];
            if (st.shape === 'circle') {
                g.append('circle').attr('cx', x0 + 16).attr('cy', r.y).attr('r', MR)
                    .attr('fill', 'none').attr('stroke', st.color).attr('stroke-width', MW).attr('stroke-opacity', MO);
            } else {
                g.append('path').attr('d', triUp)
                    .attr('transform', 'translate(' + (x0 + 16) + ',' + r.y + ')' + (st.shape === 'down' ? ' rotate(180)' : ''))
                    .attr('fill', 'none').attr('stroke', st.color).attr('stroke-width', MW).attr('stroke-opacity', MO);
            }
            g.append('text').attr('x', x0 + 38).attr('y', r.y).attr('dy', '0.35em')
                .attr('font-size', '11px').text(r.label);
        } else {
            g.append('line').attr('x1', x0 + 4).attr('x2', x0 + 27).attr('y1', r.y).attr('y2', r.y)
                .attr('stroke', '#000').attr('stroke-width', 2.6).attr('stroke-dasharray', '9,4');
            var t = g.append('text').attr('x', x0 + 37).attr('y', r.y).attr('dy', '0.35em').attr('font-size', '11px');
            t.append('tspan').text('Trap Radius = ' + r.trap + ' ');
            t.append('tspan').attr('font-style', 'italic').text('R');
            t.append('tspan').attr('font-style', 'italic').attr('font-size', '8px').attr('dy', '3').text('g');
        }
    });
}
legend(341, 83.5, 170, 78, [
    { key: 'g1', label: legendLabels[0], y: 93.5 },
    { key: 'g2', label: legendLabels[1], y: 111.3 },
    { key: 'g3', label: legendLabels[2], y: 129.5 },
    { trap: trapRadius[0], y: 148.5 }
]);
legend(341, 435.7, 170, 23.6, [{ trap: trapRadius[1], y: 447 }]);

// ---- titles and labels ----
svg.append('text').attr('x', 297.5).attr('y', 64).attr('text-anchor', 'middle').attr('font-size', '23px').text('Merger Location');
svg.append('text').attr('x', 772).attr('y', 64).attr('text-anchor', 'middle').attr('font-size', '23px').text('Time of Merger');

function massLabel(cy) {
    var t = svg.append('text').attr('transform', 'translate(21,' + cy + ') rotate(-90)')
        .attr('text-anchor', 'middle').attr('font-size', '18.5px');
    t.append('tspan').text('Final Mass [');
    t.append('tspan').attr('font-style', 'italic').text('M');
    t.append('tspan').attr('font-size', '12px').attr('dy', '4').text('\u2299');
    t.append('tspan').attr('dy', '-4').text(' ]');
}
massLabel(234);
massLabel(586);

var rl = svg.append('text').attr('x', 297).attr('y', 793).attr('text-anchor', 'middle').attr('font-size', '18.5px');
rl.append('tspan').text('Radius [');
rl.append('tspan').attr('font-style', 'italic').text('R');
rl.append('tspan').attr('font-style', 'italic').attr('font-size', '12.5px').attr('dy', '4').text('g');
rl.append('tspan').attr('dy', '-4').text(']');

svg.append('text').attr('x', 772).attr('y', 791).attr('text-anchor', 'middle').attr('font-size', '18.5px').text('Time [Myr]');

svg.append('text').attr('transform', 'translate(1008,253) rotate(90)').attr('text-anchor', 'middle')
    .attr('dominant-baseline', 'central').attr('font-size', '19px').text('SG');
svg.append('text').attr('transform', 'translate(1008,597) rotate(90)').attr('text-anchor', 'middle')
    .attr('dominant-baseline', 'central').attr('font-size', '19px').text('TQM');

svg.append('text').attr('x', 1014).attr('y', 18).attr('text-anchor', 'end')
    .attr('font-family', '"DejaVu Serif", serif').attr('font-size', '14px').text('9');
</script>
</body>
</html>
